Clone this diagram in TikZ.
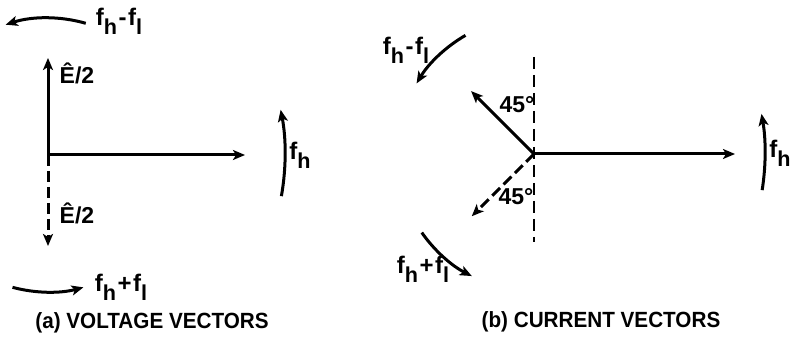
\documentclass[tikz,border=0pt]{standalone}
\usepackage{fontspec}
\setmainfont{Liberation Sans}
\usetikzlibrary{arrows.meta}
\newcommand\lowsub[1]{\raisebox{-0.36em}{\scalebox{0.9}{#1}}}
\newcommand\fhl[1]{f\lowsub{h}\kern1.5pt#1\kern1.5pt f\lowsub{l}}
\begin{document}
\begin{tikzpicture}[x=1pt,y=1pt,
  vec/.style={line width=3pt,-{Stealth[length=12pt,width=10pt,inset=3pt]}},
  dvec/.style={vec,dash pattern=on 11pt off 5pt},
  dline/.style={line width=2.8pt,dash pattern=on 12pt off 6pt},
  rot/.style={line width=3pt,-{Stealth[length=12pt,width=10pt,inset=3pt]}},
  lbl/.style={inner sep=0pt,font=\fontsize{24}{27}\selectfont\bfseries},
  degl/.style={inner sep=0pt,font=\fontsize{23}{26}\selectfont\bfseries},
  captxt/.style={inner sep=0pt,font=\fontsize{22}{24}\selectfont\bfseries}]
\useasboundingbox (0,0) rectangle (790,337);
% ---------- panel (a)
\coordinate (Oa) at (48,182);
\coordinate (Ua) at (48,279);
\coordinate (Ra) at (245,182);
\coordinate (Da) at (48,91);
\draw[vec] (Oa) -- (Ua);
\draw[vec] (Oa) -- (Ra);
\draw[dvec] (Oa) -- (Da);
\coordinate (a1) at ([shift={(74:137)}]Oa);
\draw[rot] (a1) arc[start angle=74,end angle=108,radius=137];
\coordinate (a2) at ([shift={(-105:137)}]Oa);
\draw[rot] (a2) arc[start angle=-105,end angle=-75,radius=137];
\coordinate (a3) at ([shift={(-10:237)}]Oa);
\draw[rot] (a3) arc[start angle=-10,end angle=11,radius=237];
\node[lbl] (la1) at (119,316) {\fhl{-}};
\node[degl] (lEu) at (77,264) {Ê/2};
\node[degl] (lEd) at (77,124) {Ê/2};
\node[lbl] (lfa) at (300,182) {f\lowsub{h}};
\node[lbl] (la2) at (121,50) {\fhl{+}};
\node[captxt] (capa) at (152,14) {\scalebox{0.94}[1]{(a) VOLTAGE VECTORS}};
% ---------- panel (b)
\coordinate (Ob) at (534,183);
\coordinate (Rb) at (735,183);
\coordinate (Vt) at (534,280);
\coordinate (Vb) at (534,95);
\coordinate (Sb) at ([shift={(135:89)}]Ob);
\coordinate (Db) at ([shift={(225:88)}]Ob);
\draw[dline] (Vt) -- (Vb);
\draw[vec] (Ob) -- (Rb);
\draw[vec] (Ob) -- (Sb);
\draw[dvec] (Ob) -- (Db);
\coordinate (b1) at ([shift={(120:137)}]Ob);
\draw[rot] (b1) arc[start angle=120,end angle=149,radius=137];
\coordinate (b2) at ([shift={(215:137)}]Ob);
\draw[rot] (b2) arc[start angle=215,end angle=243,radius=137];
\coordinate (b3) at ([shift={(-9:231)}]Ob);
\draw[rot] (b3) arc[start angle=-9,end angle=10,radius=231];
\node[lbl] (lb1) at (406,287) {\fhl{-}};
\node[degl] (d1) at (517,232) {45°};
\node[degl] (d2) at (516,140) {45°};
\node[lbl] (lb2) at (423,68) {\fhl{+}};
\node[lbl] (lfb) at (780,184) {f\lowsub{h}};
\node[captxt] (capb) at (601,15) {\scalebox{0.94}[1]{(b) CURRENT VECTORS}};
\end{tikzpicture}
\end{document}
